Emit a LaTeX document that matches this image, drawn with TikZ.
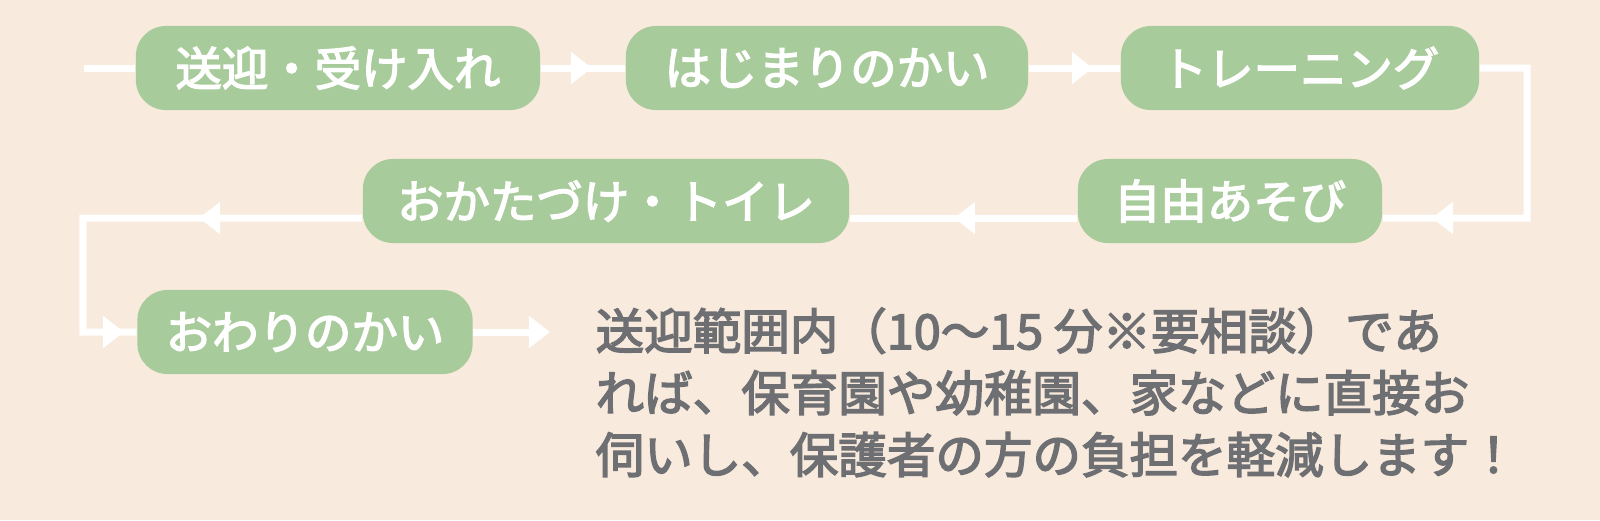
\documentclass[tikz,border=0pt]{standalone}
\usepackage{fontspec}
\setmainfont{Noto Sans CJK JP}[BoldFont=Noto Sans CJK JP, BoldFeatures={FakeBold=3}]
\usetikzlibrary{arrows.meta,decorations.markings,positioning}
\definecolor{bg_beige}{HTML}{F8EADC}
\definecolor{box_green}{HTML}{A8CB9B}
\definecolor{text_gray}{HTML}{6E6F73}
\tikzset{
        % Step boxes
        node_step/.style={rectangle, rounded corners=0.3cm, fill=box_green, text=white, inner sep=0pt, minimum height=0.84cm, font=\fontsize{13.2}{16}\selectfont\bfseries},
        % Flow lines
        flow_line/.style={white, line width=0.07cm},
        % Arrow heads
        flowtip/.tip={Triangle[length=0.21cm, width=0.31cm]},
        mid_tip/.style={postaction={decorate, decoration={markings, mark=at position #1 with {\arrow{flowtip}}}}},
        % Note text
        node_note/.style={anchor=base west, inner sep=0pt, align=left, text=text_gray, font=\fontsize{13.8}{17.6}\selectfont\bfseries}
}
\begin{document}
\begin{tikzpicture}[x=0.01cm, y=-0.01cm]
    \fill[bg_beige] (0,0) rectangle (1600,520);
    % Row 1
    \node[node_step, minimum width=4.04cm] (sougei) at (338,68) {送迎・受け入れ};
    \node[node_step, minimum width=4.02cm] (hajimari) at (827,68) {はじまりのかい};
    \node[node_step, minimum width=3.58cm] (training) at (1300,68) {トレーニング};
    % Row 2
    \node[node_step, minimum width=3.04cm] (asobi) at (1230,201) {自由あそび};
    \node[node_step, minimum width=4.86cm] (katazuke) at (606,201) {おかたづけ・トイレ};
    % Row 3
    \node[node_step, minimum width=3.35cm] (owari) at (305,332) {おわりのかい};
    \node[node_note] (note) at (595,473) {送迎範囲内（10～15 分※要相談）であ\\れば、保育園や幼稚園、家などに直接お\\伺いし、保護者の方の負担を軽減します！};
    % Connectors
    \coordinate (start) at (84,68);
    \coordinate (turn_right) at (1527,218);
    \coordinate (turn_left) at (83,218);
    \coordinate (finish) at (550,332);
    \draw[flow_line] (start) -- (sougei.west);
    \draw[flow_line, mid_tip=0.51cm] (sougei.east) -- (hajimari.west);
    \draw[flow_line, mid_tip=0.64cm] (hajimari.east) -- (training.west);
    \draw[flow_line, mid_tip=2.92cm] (training.east) -| (turn_right) -- ([yshift=-0.17cm]asobi.east);
    \draw[flow_line, mid_tip=1.23cm] ([yshift=-0.17cm]asobi.west) -- ([yshift=-0.17cm]katazuke.east);
    \draw[flow_line, mid_tip=1.63cm, mid_tip=4.34cm] ([yshift=-0.17cm]katazuke.west) -- (turn_left) |- (owari.west);
    \draw[flow_line, -{flowtip}] (owari.east) -- (finish);
\end{tikzpicture}
\end{document}
